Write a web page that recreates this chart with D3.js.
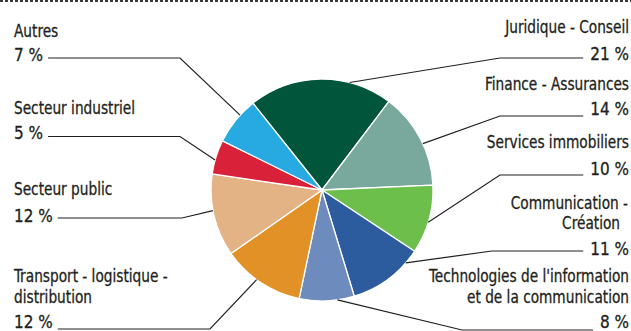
<!DOCTYPE html>
<html lang="fr">
<head>
<meta charset="utf-8">
<script src="https://cdn.jsdelivr.net/npm/d3@7/dist/d3.min.js"></script>
<style>
  html, body { margin: 0; padding: 0; background: #fff; }
  svg { display: block; }
  text { font-family: "DejaVu Sans Condensed", "DejaVu Sans", sans-serif; font-size: 17.5px; fill: #231f20; stroke: #231f20; stroke-width: 0.3px; }
</style>
</head>
<body>
<svg id="chart" width="631" height="331"></svg>
<script>
// Sectors, in clockwise order starting at the top
const categories = [
  ["Juridique - Conseil"],
  ["Finance - Assurances"],
  ["Services immobiliers"],
  ["Communication -", "Création"],
  ["Technologies de l'information", "et de la communication"],
  ["Transport - logistique -", "distribution"],
  ["Secteur public"],
  ["Secteur industriel"],
  ["Autres"]
];
const shares = [21, 14, 10, 11, 8, 12, 12, 5, 7];
const colors = ["#00553a", "#79a89c", "#6cbf4b", "#2d5c9e", "#6e8bbd", "#e29127", "#e3b386", "#d92139", "#27aae1"];

// Label placement: side, baselines of the name lines, baseline of the percentage,
// height of the horizontal leader, elbow x, and where along the slice the leader meets it
const labelLayout = [
  { side: "right", x: 629, lines: [33],       pct: 60,  lineY: 58,    elbowX: 500, at: 0.70 },
  { side: "right", x: 629, lines: [90],       pct: 115, lineY: 116,   elbowX: 500, at: 0.56 },
  { side: "right", x: 629, lines: [148],      pct: 175, lineY: 175,   elbowX: 500, at: 0.54 },
  { side: "right", x: 629, lines: [209, 229], pct: 255, lineY: 251,   elbowX: 492, at: 0.19, lineX: [628, 620] },
  { side: "right", x: 629, lines: [282, 303], pct: 328, lineY: 330,   elbowX: 462, at: 0.31 },
  { side: "left",  x: 14,  lines: [282, 303], pct: 328, lineY: 329,   elbowX: 210, at: 0.56 },
  { side: "left",  x: 14,  lines: [195],      pct: 222, lineY: 218,   elbowX: 182, at: 0.56 },
  { side: "left",  x: 14,  lines: [114],      pct: 139, lineY: 136.5, elbowX: 180, at: 0.41 },
  { side: "left",  x: 14,  lines: [37],       pct: 61,  lineY: 58,    elbowX: 180, at: 0.64 }
];

// Horizontal compression giving the labels a condensed face
const nameScale = 0.87, pctScale = 0.97;

const svg = d3.select("#chart");
const cx = 322, cy = 190, radius = 111;
const startAngle = -38.5 * Math.PI / 180;

// Dotted rule along the top edge
svg.append("line")
  .attr("x1", 0).attr("x2", 631).attr("y1", 1).attr("y2", 1)
  .attr("stroke", "#3a3a3a").attr("stroke-width", 2)
  .attr("stroke-dasharray", "3,2");

const pie = d3.pie().sort(null).value(d => d)
  .startAngle(startAngle).endAngle(startAngle + 2 * Math.PI);
const arcs = pie(shares);
const arc = d3.arc().innerRadius(0).outerRadius(radius);

const g = svg.append("g").attr("transform", `translate(${cx},${cy})`);
g.selectAll("path.slice")
  .data(arcs)
  .join("path")
  .attr("class", "slice")
  .attr("d", arc)
  .attr("fill", (d, i) => colors[i])
  .attr("stroke", "#fff")
  .attr("stroke-width", 1.3)
  .attr("stroke-linejoin", "round");

// Labels and leader lines
const labels = svg.append("g");
function addText(x, y, s, anchor, sx) {
  return labels.append("text")
    .attr("transform", `translate(${x},${y}) scale(${sx},1)`)
    .attr("text-anchor", anchor)
    .text(s);
}
arcs.forEach((a, i) => {
  const L = labelLayout[i];
  const anchor = L.side === "right" ? "end" : "start";
  categories[i].forEach((line, k) => {
    addText(L.lineX ? L.lineX[k] : L.x, L.lines[k], line, anchor, nameScale);
  });
  const pctText = addText(L.x, L.pct, shares[i] + "\u00a0%", anchor, pctScale);
  const bb = pctText.node().getBBox();
  const x0 = L.side === "right"
    ? L.x + bb.x * pctScale - 7
    : L.x + (bb.x + bb.width) * pctScale + 5;

  const ang = a.startAngle + (a.endAngle - a.startAngle) * L.at;
  const px = cx + radius * Math.sin(ang);
  const py = cy - radius * Math.cos(ang);

  labels.append("path")
    .attr("d", d3.line()([[x0, L.lineY], [L.elbowX, L.lineY], [px, py]]))
    .attr("fill", "none")
    .attr("stroke", "#231f20")
    .attr("stroke-width", 1.2);
});
</script>
</body>
</html>
